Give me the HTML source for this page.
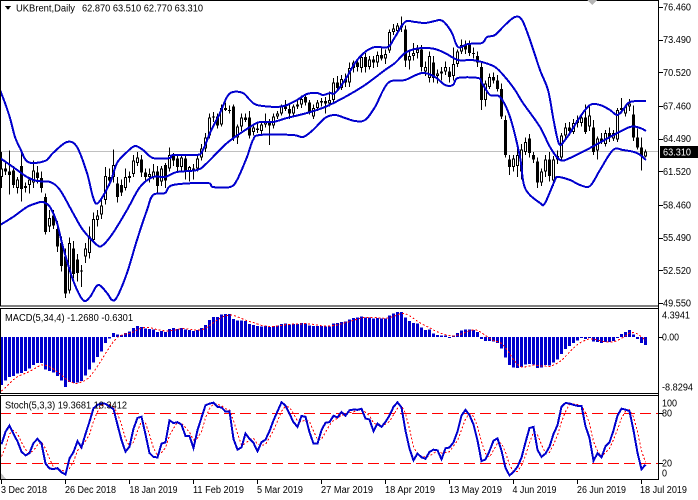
<!DOCTYPE html>
<html><head><meta charset="utf-8">
<style>
html,body{margin:0;padding:0;background:#fff;}
svg{display:block;}
text{font-family:"Liberation Sans",sans-serif;font-size:10px;fill:#000;}
</style></head><body>
<svg id="s" width="698" height="500" viewBox="0 0 698 500" xmlns="http://www.w3.org/2000/svg" shape-rendering="crispEdges">
<defs>
<clipPath id="cm"><rect x="1" y="1" width="657.5" height="305"/></clipPath>
<clipPath id="cd"><rect x="1" y="309" width="657.5" height="84.5"/></clipPath>
<clipPath id="cs"><rect x="1" y="396" width="657.5" height="83.5"/></clipPath>
</defs>
<rect width="698" height="500" fill="#fff"/>
<line x1="0" y1="151.5" x2="659" y2="151.5" stroke="#c0c0c0"/>
<g id="main" clip-path="url(#cm)"></g>
<g id="macd" clip-path="url(#cd)"></g>
<g id="stoch" clip-path="url(#cs)">
<line x1="0" y1="413.5" x2="659" y2="413.5" stroke="#ff0000" stroke-dasharray="11,5"/>
<line x1="0" y1="463.5" x2="659" y2="463.5" stroke="#ff0000" stroke-dasharray="11,5"/>
</g>
<g id="stoch2" clip-path="url(#cs)"></g>

<!-- frames -->
<rect x="0.5" y="0.5" width="658" height="305.5" fill="none" stroke="#000"/>
<rect x="0.5" y="308.5" width="658" height="85" fill="none" stroke="#000"/>
<rect x="0.5" y="395.5" width="658" height="84" fill="none" stroke="#000"/>
<line x1="658.5" y1="0" x2="658.5" y2="480" stroke="#000"/>
<line x1="0" y1="479.5" x2="659" y2="479.5" stroke="#000"/>

<polygon points="587,0 597,0 592,5" fill="#b4b4b4"/>
<polygon points="1,473 1,479 6,479" fill="#c0c0c0"/>

<!-- title -->
<polygon points="5,6 11,6 8,10" fill="#000"/>
<text x="16" y="11.5" textLength="59" lengthAdjust="spacingAndGlyphs">UKBrent,Daily</text>
<text x="82" y="11.5" textLength="121" lengthAdjust="spacingAndGlyphs">62.870 63.510 62.770 63.310</text>
<text x="5" y="321" textLength="128" lengthAdjust="spacingAndGlyphs">MACD(5,34,4) -1.2680 -0.6301</text>
<text x="5" y="408.5" textLength="122" lengthAdjust="spacingAndGlyphs">Stoch(5,3,3) 19.3681 18.3412</text>

<!-- right axis main -->
<g stroke="#000">
<line x1="659" y1="7.5" x2="663" y2="7.5"/>
<line x1="659" y1="40.5" x2="663" y2="40.5"/>
<line x1="659" y1="72.5" x2="663" y2="72.5"/>
<line x1="659" y1="106.5" x2="663" y2="106.5"/>
<line x1="659" y1="139.5" x2="663" y2="139.5"/>
<line x1="659" y1="171.5" x2="663" y2="171.5"/>
<line x1="659" y1="205.5" x2="663" y2="205.5"/>
<line x1="659" y1="238.5" x2="663" y2="238.5"/>
<line x1="659" y1="270.5" x2="663" y2="270.5"/>
<line x1="659" y1="303.5" x2="663" y2="303.5"/>
<line x1="659" y1="337.5" x2="663" y2="337.5"/>
<line x1="659" y1="413.5" x2="663" y2="413.5"/>
<line x1="659" y1="463.5" x2="663" y2="463.5"/>
</g>
<text x="663" y="10.5" textLength="28" lengthAdjust="spacingAndGlyphs">76.460</text>
<text x="663" y="43.2" textLength="28" lengthAdjust="spacingAndGlyphs">73.490</text>
<text x="663" y="75.8" textLength="28" lengthAdjust="spacingAndGlyphs">70.520</text>
<text x="663" y="109.5" textLength="28" lengthAdjust="spacingAndGlyphs">67.460</text>
<text x="663" y="142.2" textLength="28" lengthAdjust="spacingAndGlyphs">64.490</text>
<text x="663" y="174.8" textLength="28" lengthAdjust="spacingAndGlyphs">61.520</text>
<text x="663" y="208.5" textLength="28" lengthAdjust="spacingAndGlyphs">58.460</text>
<text x="663" y="241.2" textLength="28" lengthAdjust="spacingAndGlyphs">55.490</text>
<text x="663" y="273.8" textLength="28" lengthAdjust="spacingAndGlyphs">52.520</text>
<text x="663" y="306.5" textLength="28" lengthAdjust="spacingAndGlyphs">49.550</text>
<rect x="660" y="146" width="38" height="12" fill="#000"/>
<text x="663" y="155.5" textLength="28" lengthAdjust="spacingAndGlyphs" style="fill:#fff">63.310</text>

<!-- right axis macd/stoch -->
<text x="662" y="318.5" textLength="28" lengthAdjust="spacingAndGlyphs">4.3941</text>
<text x="662" y="340.5" textLength="17" lengthAdjust="spacingAndGlyphs">0.00</text>
<text x="662" y="390.5" textLength="31" lengthAdjust="spacingAndGlyphs">-8.8294</text>
<text x="662" y="406.5" textLength="15" lengthAdjust="spacingAndGlyphs">100</text>
<text x="662" y="416.5" textLength="10" lengthAdjust="spacingAndGlyphs">80</text>
<text x="662" y="466.5" textLength="10" lengthAdjust="spacingAndGlyphs">20</text>
<text x="662" y="476.5" textLength="5" lengthAdjust="spacingAndGlyphs">0</text>

<!-- date ticks -->
<g stroke="#000">
<line x1="1.5" y1="480" x2="1.5" y2="484"/>
<line x1="65.5" y1="480" x2="65.5" y2="484"/>
<line x1="129.5" y1="480" x2="129.5" y2="484"/>
<line x1="193.5" y1="480" x2="193.5" y2="484"/>
<line x1="257.5" y1="480" x2="257.5" y2="484"/>
<line x1="321.5" y1="480" x2="321.5" y2="484"/>
<line x1="385.5" y1="480" x2="385.5" y2="484"/>
<line x1="449.5" y1="480" x2="449.5" y2="484"/>
<line x1="513.5" y1="480" x2="513.5" y2="484"/>
<line x1="577.5" y1="480" x2="577.5" y2="484"/>
<line x1="641.5" y1="480" x2="641.5" y2="484"/>
</g>
<text x="1" y="493" textLength="46" lengthAdjust="spacingAndGlyphs">3 Dec 2018</text>
<text x="65" y="493" textLength="51" lengthAdjust="spacingAndGlyphs">26 Dec 2018</text>
<text x="129.5" y="493" textLength="48" lengthAdjust="spacingAndGlyphs">18 Jan 2019</text>
<text x="193" y="493" textLength="51" lengthAdjust="spacingAndGlyphs">11 Feb 2019</text>
<text x="257" y="493" textLength="46" lengthAdjust="spacingAndGlyphs">5 Mar 2019</text>
<text x="321" y="493" textLength="52" lengthAdjust="spacingAndGlyphs">27 Mar 2019</text>
<text x="385" y="493" textLength="50" lengthAdjust="spacingAndGlyphs">18 Apr 2019</text>
<text x="449" y="493" textLength="53" lengthAdjust="spacingAndGlyphs">13 May 2019</text>
<text x="512.5" y="493" textLength="44" lengthAdjust="spacingAndGlyphs">4 Jun 2019</text>
<text x="577" y="493" textLength="49" lengthAdjust="spacingAndGlyphs">26 Jun 2019</text>
<text x="640" y="493" textLength="47" lengthAdjust="spacingAndGlyphs">18 Jul 2019</text>
</svg>
<script>
(function(){
var warm=[78.2,78.8,79.1,78.7,78.1,79.4,81.2,81.9,81.0,81.9,82.7,84.98,84.8,86.3,84.6,84.2,84.0,85.0,83.1,80.3,80.4,80.8,81.4,80.1,79.3,79.8,79.8,76.4,76.2,76.9,77.6,77.3,75.9,75.5,72.9,72.8,73.2,72.1,72.1,70.7,70.2,70.1,65.5,66.1,66.6,66.8,66.8,62.5,63.5,62.6,58.8,60.5,60.2,58.8,59.5,58.7];
var D=[
[61.0,63.3,60.0,61.8],[61.8,62.5,61.2,61.5],[61.5,63.4,59.4,61.2],[61.6,62.0,60.0,60.3],[60.0,61.0,59.5,60.8],
[62.0,63.5,58.8,59.9],[60.0,60.5,59.6,60.2],[60.3,61.0,59.5,60.8],[60.5,62.5,60.0,61.6],[61.4,62.0,60.4,60.9],
[60.9,61.5,59.6,60.0],[59.2,59.5,55.8,56.0],[56.5,58.0,56.0,57.3],[57.5,58.0,56.3,56.6],[56.3,57.0,54.2,54.7],
[55.0,55.6,52.4,52.9],[53.8,54.5,50.0,50.4],[50.7,55.5,50.4,55.0],[54.5,55.2,51.8,52.2],[53.5,54.0,51.5,52.3],
[52.4,53.0,51.0,52.5],[53.8,55.0,53.2,54.5],[54.1,56.5,53.6,55.6],[55.3,57.8,55.0,57.2],[57.1,58.0,56.5,57.5],
[57.6,59.0,57.2,58.4],[58.9,61.9,58.5,61.1],[61.0,61.8,60.2,60.7],[61.0,63.5,60.5,62.1],[60.4,61.0,58.7,59.2],
[60.3,60.8,59.3,59.6],[60.0,61.8,59.8,61.0],[60.9,61.5,60.5,61.1],[61.3,63.0,61.0,62.5],[62.3,63.3,62.0,62.8],
[62.6,63.0,61.0,61.4],[61.4,61.8,60.6,61.0],[61.0,61.8,60.5,61.3],[61.0,62.2,60.8,61.5],[61.5,62.0,59.6,60.2],
[60.6,62.0,60.2,61.8],[62.1,62.3,60.0,60.7],[61.8,63.7,61.5,63.0],[62.9,63.2,62.0,62.5],[62.7,63.0,61.5,61.9],
[61.9,63.0,61.6,62.8],[62.7,63.0,60.8,61.5],[61.5,62.0,60.6,61.9],[61.8,62.2,60.8,61.6],[61.8,63.0,61.5,62.7],
[62.8,64.0,62.5,63.6],[63.6,65.0,63.3,64.6],[64.8,66.8,64.5,66.4],[66.4,66.9,66.0,66.5],[66.5,66.8,65.4,65.7],
[65.8,67.6,65.6,67.3],[67.3,67.8,67.0,67.1],[67.1,67.5,66.8,67.0],[67.4,67.6,64.3,64.6],[64.6,65.8,64.0,65.6],
[65.6,66.8,65.2,66.4],[66.4,66.8,66.0,66.2],[66.4,67.0,64.5,64.8],[65.1,65.8,64.8,65.5],[65.4,65.9,65.0,65.3],
[65.2,66.0,64.8,65.8],[65.8,66.8,65.5,66.0],[66.0,66.3,63.9,65.7],[65.7,66.8,65.4,66.5],[66.5,67.0,66.3,66.8],
[66.8,67.6,66.6,67.4],[67.4,68.0,67.0,67.2],[67.2,67.6,66.3,66.8],[66.8,67.6,66.5,67.4],[67.4,68.0,67.2,67.6],
[67.6,68.4,67.3,68.1],[68.3,68.6,67.5,67.8],[67.8,68.0,66.7,66.9],[66.5,67.6,66.3,67.3],[67.3,68.0,67.0,67.8],
[67.8,68.2,67.4,67.9],[67.9,68.3,66.8,67.7],[67.7,68.8,67.4,68.0],[68.0,70.0,67.8,69.6],[69.6,70.2,68.8,69.1],
[69.1,70.3,68.9,69.9],[69.9,70.4,69.2,69.6],[69.6,71.4,69.2,70.9],[70.9,71.6,70.5,71.4],[71.4,71.8,70.6,71.0],
[70.9,72.2,70.5,71.9],[71.9,72.3,70.5,71.0],[71.0,72.0,70.8,71.7],[71.7,72.0,70.9,71.4],[71.4,72.4,71.0,72.1],
[72.1,72.8,71.6,71.8],[71.8,72.6,71.3,72.2],[72.5,74.4,72.3,74.2],[74.2,74.9,73.9,74.5],[74.3,75.0,74.0,74.8],
[74.8,75.6,74.2,74.6],[74.4,74.8,71.0,71.6],[71.6,72.4,70.8,72.0],[72.0,73.2,71.6,72.3],[72.3,73.0,71.8,72.6],
[72.6,73.0,70.6,71.0],[70.6,71.5,70.2,71.0],[70.0,72.4,69.6,72.0],[71.4,72.0,69.6,70.0],[70.2,70.8,69.5,70.4],
[70.4,71.0,69.8,70.6],[70.6,71.5,70.3,71.0],[70.6,71.0,69.6,70.1],[70.2,72.8,69.8,71.3],[71.3,72.6,71.0,72.4],
[72.4,73.5,72.2,73.0],[73.0,73.4,72.2,72.6],[73.0,73.4,72.0,72.3],[72.3,72.8,71.8,72.2],[72.0,72.4,71.0,71.4],
[71.0,71.4,67.1,68.0],[68.0,69.8,67.4,69.5],[69.2,70.4,69.0,70.1],[70.1,70.5,69.5,69.8],[69.8,70.3,68.8,69.0],
[69.0,69.5,66.3,66.5],[66.2,66.6,62.8,63.0],[62.6,63.0,61.2,61.9],[61.9,63.0,61.5,62.7],[62.0,63.6,61.0,63.0],
[61.5,64.0,60.8,63.5],[63.3,64.6,63.0,64.2],[64.5,64.9,62.8,63.2],[63.0,63.3,62.3,62.6],[62.4,62.8,60.0,60.5],
[60.5,61.8,60.2,61.5],[61.5,63.0,61.0,62.6],[62.6,63.3,60.6,61.1],[60.7,62.9,60.2,62.6],[62.6,63.4,62.2,62.9],
[62.8,65.0,62.5,64.8],[64.8,65.9,64.5,65.5],[65.5,66.0,64.8,65.2],[65.1,66.3,64.9,65.9],[65.9,66.6,65.5,66.2],
[65.9,66.8,65.6,66.4],[66.4,67.6,64.9,65.1],[65.6,67.6,65.2,66.6],[65.5,66.2,63.0,63.3],[63.4,64.7,62.6,64.5],
[64.5,65.0,64.0,64.3],[64.0,65.3,63.8,65.0],[65.0,65.5,64.2,64.6],[64.5,65.3,64.3,65.0],[64.4,67.3,64.2,67.1],
[67.1,68.2,66.8,67.3],[66.8,67.6,66.5,67.4],[67.4,68.1,67.0,67.7],[66.7,67.5,64.3,64.6],[64.6,65.4,63.5,63.7],
[63.7,64.6,61.6,62.9],[62.87,63.51,62.77,63.31]];

var up=[[0,90],[5,103],[10,118],[15,137],[20,148],[28,162],[45,161],[53,153],[67,142],[77,147],[87,173],[93,197],[98,203],[110,183],[117,163],[127,152],[135,146],[143,150],[153,158],[170,158],[173,155],[197,155],[203,150],[210,133],[220,113],[227,97],[233,92],[243,93],[250,100],[257,105],[277,107],[287,105],[297,100],[307,94],[317,93],[323,95],[330,93],[335,93],[345,80],[355,63],[365,52],[375,47],[388,47],[395,37],[405,22],[415,22],[425,23],[435,21],[440,20],[445,23],[452,33],[458,47],[468,44],[482,43],[487,37],[495,35],[505,25],[515,17],[522,20],[530,40],[540,70],[548,90],[553,117],[557,137],[560,145],[565,140],[570,133],[580,117],[590,105],[600,105],[610,110],[617,115],[623,110],[630,102],[646,101]];
var mid=[[0,158],[13,167],[27,177],[37,181],[50,182],[60,190],[73,213],[83,230],[97,245],[103,245],[113,233],[127,210],[140,187],[153,177],[165,177],[177,172],[197,170],[207,163],[227,143],[250,127],[260,122],[273,122],[287,118],[307,113],[325,107],[345,97],[365,85],[385,70],[395,63],[405,53],[415,49],[425,48],[435,49],[445,53],[458,60],[472,60],[482,62],[495,67],[505,77],[515,90],[523,103],[540,127],[550,147],[560,160],[570,158],[590,148],[610,137],[630,127],[640,128],[646,131]];
var lo=[[0,225],[13,217],[27,207],[37,203],[43,202],[50,207],[57,223],[63,247],[73,280],[83,300],[90,297],[98,285],[107,293],[112,300],[117,297],[127,273],[137,240],[147,210],[153,195],[165,193],[173,185],[207,183],[213,187],[230,187],[237,180],[247,157],[253,140],[260,135],[293,135],[303,137],[313,130],[325,118],[335,115],[345,118],[355,121],[365,120],[375,107],[388,83],[405,80],[422,73],[435,77],[445,85],[453,85],[458,78],[478,78],[482,83],[490,95],[500,97],[510,117],[520,157],[525,188],[540,203],[545,203],[555,180],[558,177],[570,180],[580,185],[590,186],[600,170],[613,150],[623,150],[637,153],[646,160]];

function cr(p){var d='M'+p[0][0]+','+p[0][1];for(var i=0;i<p.length-1;i++){var p0=p[i-1]||p[i],p1=p[i],p2=p[i+1],p3=p[i+2]||p2;d+='C'+(p1[0]+(p2[0]-p0[0])/6).toFixed(2)+','+(p1[1]+(p2[1]-p0[1])/6).toFixed(2)+' '+(p2[0]-(p3[0]-p1[0])/6).toFixed(2)+','+(p2[1]-(p3[1]-p1[1])/6).toFixed(2)+' '+p2[0]+','+p2[1];}return d;}

var bars=[];
for(var i=0;i<warm.length;i++){var c=warm[i],o=i?warm[i-1]:c;bars.push([o,Math.max(o,c)+0.6,Math.min(o,c)-0.6,c]);}
var off=bars.length;
D.forEach(function(b){bars.push(b);});
var n=bars.length,C=bars.map(function(b){return b[3];});
function ema(p){var a=2/(p+1),r=[],e=C[0];for(var i=0;i<n;i++){e=i?a*C[i]+(1-a)*e:C[0];r.push(e);}return r;}
var e5=ema(5),e34=ema(34);
var M=C.map(function(c,i){return e5[i]-e34[i];});
var S=M.map(function(m,i){return i<3?m:(M[i]+M[i-1]+M[i-2]+M[i-3])/4;});
var K=[],Ds=[];
for(var i=0;i<n;i++){var num=0,den=0;for(var j=i-2;j<=i;j++){if(j<4)continue;var hh=-1e9,ll=1e9;for(var k=j-4;k<=j;k++){hh=Math.max(hh,bars[k][1]);ll=Math.min(ll,bars[k][2]);}num+=C[j]-ll;den+=hh-ll;}K.push(den>0?100*num/den:50);}
for(var i=0;i<n;i++){Ds.push(i<2?K[i]:(K[i]+K[i-1]+K[i-2])/3);}

function X(i){return 1+4*i;}
function py(p){return 7+(76.46-p)*11;}
function my(v){return 309+(4.3941-v)*84/13.2235;}
function sy(v){return 479.7-v*0.834;}

var s='';
for(var i=0;i<D.length;i++){var b=D[i],o=b[0],h=b[1],l=b[2],c=b[3],x=X(i);
 var yh=py(h),yl=py(l),yo=py(o),yc=py(c);
 s+='<rect x="'+x+'" y="'+yh.toFixed(1)+'" width="1" height="'+(yl-yh).toFixed(1)+'" fill="#000"/>';
 var t=Math.min(yo,yc),bt=Math.max(yo,yc);if(bt-t<1)bt=t+1;
 s+='<rect x="'+(x-1)+'" y="'+t.toFixed(1)+'" width="3" height="'+(bt-t).toFixed(1)+'" fill="#000"/>';
 if(c>o&&bt-t>2)s+='<rect x="'+x+'" y="'+(t+1).toFixed(1)+'" width="1" height="'+(bt-t-2).toFixed(1)+'" fill="#fff"/>';
}
[up,mid,lo].forEach(function(p){s+='<path d="'+cr(p)+'" fill="none" stroke="#0000cd" stroke-width="2"/>';});
document.getElementById('main').innerHTML=s;

var m='',z=my(0),sp=[];
for(var i=0;i<D.length;i++){var v=M[off+i],yv=my(v),x=X(i);var t=Math.min(z,yv),h=Math.abs(yv-z);if(h<1)h=1;
 m+='<rect x="'+(x-1)+'" y="'+t.toFixed(1)+'" width="3" height="'+h.toFixed(1)+'" fill="#0000cd"/>';
 sp.push((x+0.5)+','+my(S[off+i]).toFixed(1));}
m+='<polyline points="'+sp.join(' ')+'" fill="none" stroke="#ff0000" stroke-width="1" stroke-dasharray="2,2"/>';
document.getElementById('macd').innerHTML=m;

var kp=[],dp=[];
for(var i=0;i<D.length;i++){var x=X(i)+0.5;kp.push(x+','+sy(K[off+i]).toFixed(1));dp.push(x+','+sy(Ds[off+i]).toFixed(1));}
document.getElementById('stoch2').innerHTML='<polyline points="'+dp.join(' ')+'" fill="none" stroke="#ff0000" stroke-width="1" stroke-dasharray="2,2"/><polyline points="'+kp.join(' ')+'" fill="none" stroke="#0000cd" stroke-width="2"/>';
})();
</script>
</body></html>
